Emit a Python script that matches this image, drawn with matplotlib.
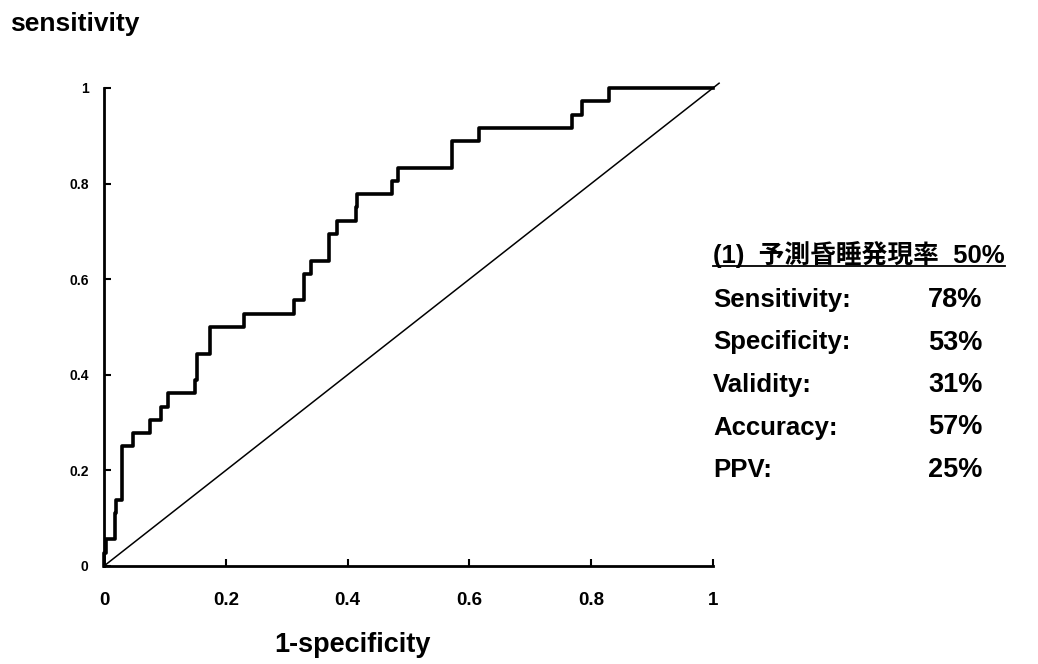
import numpy as np
import matplotlib.pyplot as plt
from matplotlib.lines import Line2D

plt.rcParams['font.family'] = ['Liberation Sans', 'Noto Sans CJK JP', 'DejaVu Sans']

# ROC step curve: at each fpr the curve jumps up to tpr
fpr = [0.0, 0.0, 0.003, 0.018, 0.020, 0.030, 0.048, 0.076, 0.094, 0.105,
       0.149, 0.152, 0.174, 0.230, 0.312, 0.328, 0.340, 0.370, 0.383,
       0.414, 0.416, 0.473, 0.483, 0.571, 0.616, 0.768, 0.785, 0.829, 1.0]
tpr = [0.0, 0.028, 0.056, 0.111, 0.139, 0.250, 0.278, 0.306, 0.333, 0.361,
       0.389, 0.444, 0.500, 0.528, 0.556, 0.611, 0.639, 0.694, 0.722,
       0.750, 0.778, 0.806, 0.833, 0.889, 0.917, 0.944, 0.972, 1.0, 1.0]

ticks = [0, 0.2, 0.4, 0.6, 0.8, 1]
tick_labels = ['0', '0.2', '0.4', '0.6', '0.8', '1']

title = '(1)  予測昏睡発現率  50%'
stat_names = ['Sensitivity:', 'Specificity:', 'Validity:', 'Accuracy:', 'PPV:']
stat_values = ['78%', '53%', '31%', '57%', '25%']

fig = plt.figure(figsize=(10.38, 6.64), dpi=100)
ax = fig.add_axes([0.1002, 0.1476, 0.5867, 0.7199])

ax.step(fpr, tpr, where='post', color='black', lw=2.6, clip_on=False)
ax.plot([0, 1.01], [0, 1.01], color='black', lw=1.1, clip_on=False)

ax.set_xlim(0, 1)
ax.set_ylim(0, 1)
ax.spines['top'].set_visible(False)
ax.spines['right'].set_visible(False)
ax.spines['left'].set_linewidth(2)
ax.spines['bottom'].set_linewidth(2)

ax.set_xticks(ticks)
ax.set_xticklabels(tick_labels, fontsize=13.5, fontweight='bold')
ax.set_yticks(ticks)
ax.set_yticklabels(tick_labels, fontsize=10, fontweight='bold')
ax.tick_params(axis='x', direction='in', length=5, width=1.5, pad=19)
ax.tick_params(axis='y', direction='in', length=5, width=1.5, pad=11)

fig.text(10 / 1038, 1 - 24 / 664, 'sensitivity', fontsize=19, fontweight='bold',
         ha='left', va='center')
fig.text(352 / 1038, 1 - 645 / 664, '1-specificity', fontsize=19.5, fontweight='bold',
         ha='center', va='center')

fig.text(713 / 1038, 1 - 255 / 664, title, fontsize=18.5, fontweight='bold',
         ha='left', va='center')
fig.add_artist(Line2D([713 / 1038, 1005 / 1038], [1 - 266 / 664] * 2,
                      color='black', lw=1.3))
for i, (n, v) in enumerate(zip(stat_names, stat_values)):
    y = 1 - (300 + i * 42.5) / 664
    fig.text(713 / 1038, y, n, fontsize=18.5, fontweight='bold', ha='left', va='center')
    fig.text(928 / 1038, y, v, fontsize=19.5, fontweight='bold', ha='left', va='center')

fig.savefig('out.png', dpi=100)
